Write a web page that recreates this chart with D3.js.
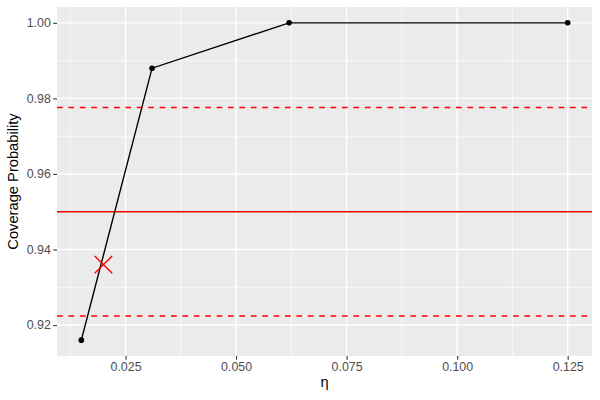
<!DOCTYPE html>
<html>
<head>
<meta charset="utf-8">
<script src="https://cdn.jsdelivr.net/npm/d3@7"></script>
<style>
  body { margin: 0; background: #fff; }
  svg { display: block; font-family: "Liberation Sans", Arial, sans-serif; }
</style>
</head>
<body>
<div id="chart"></div>
<script>
// data
var etaValues = [0.015, 0.031, 0.062, 0.125]
var coverage = [0.916, 0.988, 1.0, 1.0]
var markEta = [0.02]
var markCoverage = [0.936]
var nominal = 0.95
var bandLow = 0.9224
var bandHigh = 0.9776
var xTicks = [0.025, 0.05, 0.075, 0.1, 0.125]
var yTicks = [0.92, 0.94, 0.96, 0.98, 1.0]

var width = 600,
  height = 400
var margin = { top: 7, right: 8, bottom: 44, left: 57 }
var pw = width - margin.left - margin.right,
  ph = height - margin.top - margin.bottom

var svg = d3
  .select("#chart")
  .append("svg")
  .attr("width", width)
  .attr("height", height)

// ggplot style 5% expansion
var xMin = d3.min(etaValues),
  xMax = d3.max(etaValues)
var yMin = d3.min(coverage),
  yMax = d3.max(coverage)
var xPad = (xMax - xMin) * 0.05,
  yPad = (yMax - yMin) * 0.05

var x = d3
  .scaleLinear()
  .domain([xMin - xPad, xMax + xPad])
  .range([0, pw])
var y = d3
  .scaleLinear()
  .domain([yMin - yPad, yMax + yPad])
  .range([ph, 0])

var g = svg
  .append("g")
  .attr("transform", "translate(" + margin.left + "," + margin.top + ")")

g.append("rect")
  .attr("width", pw)
  .attr("height", ph)
  .attr("fill", "#EBEBEB")

/* ------- GRID -------*/
var xMinor = xTicks.map(function(t) { return t - 0.0125 }).concat([0.1375])
var yMinor = yTicks.map(function(t) { return t - 0.01 }).concat([1.01])

g.selectAll("line.xminor")
  .data(xMinor.filter(function(d) { return x(d) >= 0 && x(d) <= pw }))
  .enter()
  .append("line")
  .attr("x1", function(d) { return x(d) })
  .attr("x2", function(d) { return x(d) })
  .attr("y1", 0)
  .attr("y2", ph)
  .attr("stroke", "#fff")
  .attr("stroke-width", 0.7)

g.selectAll("line.yminor")
  .data(yMinor.filter(function(d) { return y(d) >= 0 && y(d) <= ph }))
  .enter()
  .append("line")
  .attr("x1", 0)
  .attr("x2", pw)
  .attr("y1", function(d) { return y(d) })
  .attr("y2", function(d) { return y(d) })
  .attr("stroke", "#fff")
  .attr("stroke-width", 0.7)

g.selectAll("line.xmajor")
  .data(xTicks)
  .enter()
  .append("line")
  .attr("x1", function(d) { return x(d) })
  .attr("x2", function(d) { return x(d) })
  .attr("y1", 0)
  .attr("y2", ph)
  .attr("stroke", "#fff")
  .attr("stroke-width", 1.4)

g.selectAll("line.ymajor")
  .data(yTicks)
  .enter()
  .append("line")
  .attr("x1", 0)
  .attr("x2", pw)
  .attr("y1", function(d) { return y(d) })
  .attr("y2", function(d) { return y(d) })
  .attr("stroke", "#fff")
  .attr("stroke-width", 1.4)

/* ------- AXES -------*/
var xAxis = g
  .append("g")
  .attr("transform", "translate(0," + ph + ")")
  .call(
    d3.axisBottom(x)
      .tickValues(xTicks)
      .tickFormat(d3.format(".3f"))
      .tickSize(3.7)
      .tickPadding(2.5)
  )
var yAxis = g
  .append("g")
  .call(
    d3.axisLeft(y)
      .tickValues(yTicks)
      .tickFormat(d3.format(".2f"))
      .tickSize(3.7)
      .tickPadding(2.5)
  )

;[xAxis, yAxis].forEach(function(a) {
  a.attr("font-size", null).attr("font-family", null)
  a.select(".domain").remove()
  a.selectAll(".tick line").attr("stroke", "#333").attr("stroke-width", 1.1)
  a.selectAll(".tick text")
    .attr("fill", "#4D4D4D")
    .style("font-size", "12.4px")
    .style("font-family", "Liberation Sans, Arial, sans-serif")
})

svg.append("text")
  .attr("x", margin.left + pw / 2)
  .attr("y", 387)
  .attr("text-anchor", "middle")
  .style("font-size", "14.7px")
  .attr("fill", "#000")
  .text("η")

svg.append("text")
  .attr("transform", "translate(18," + (margin.top + ph / 2) + ") rotate(-90)")
  .attr("text-anchor", "middle")
  .style("font-size", "14.7px")
  .attr("fill", "#000")
  .text("Coverage Probability")

/* ------- REFERENCE LINES -------*/
g.append("line")
  .attr("x1", 0)
  .attr("x2", pw)
  .attr("y1", y(nominal))
  .attr("y2", y(nominal))
  .attr("stroke", "#FF0000")
  .attr("stroke-width", 1.4)

g.selectAll("line.band")
  .data([bandLow, bandHigh])
  .enter()
  .append("line")
  .attr("x1", 0)
  .attr("x2", pw)
  .attr("y1", function(d) { return y(d) })
  .attr("y2", function(d) { return y(d) })
  .attr("stroke", "#FF0000")
  .attr("stroke-width", 1.4)
  .attr("stroke-dasharray", "5.7,5.7")

/* ------- SERIES -------*/
var pts = etaValues.map(function(e, i) { return [e, coverage[i]] })

var line = d3
  .line()
  .x(function(d) { return x(d[0]) })
  .y(function(d) { return y(d[1]) })

g.append("path")
  .datum(pts)
  .attr("d", line)
  .attr("fill", "none")
  .attr("stroke", "#000")
  .attr("stroke-width", 1.4)

g.selectAll("circle.pt")
  .data(pts)
  .enter()
  .append("circle")
  .attr("cx", function(d) { return x(d[0]) })
  .attr("cy", function(d) { return y(d[1]) })
  .attr("r", 2.8)
  .attr("fill", "#000")

var cross = d3.symbol().type(d3.symbolTimes).size(200)
g.selectAll("path.mark")
  .data(markEta.map(function(e, i) { return [e, markCoverage[i]] }))
  .enter()
  .append("path")
  .attr("d", cross)
  .attr("transform", function(d) { return "translate(" + x(d[0]) + "," + y(d[1]) + ")" })
  .attr("fill", "none")
  .attr("stroke", "#FF0000")
  .attr("stroke-width", 1.4)
</script>
</body>
</html>
